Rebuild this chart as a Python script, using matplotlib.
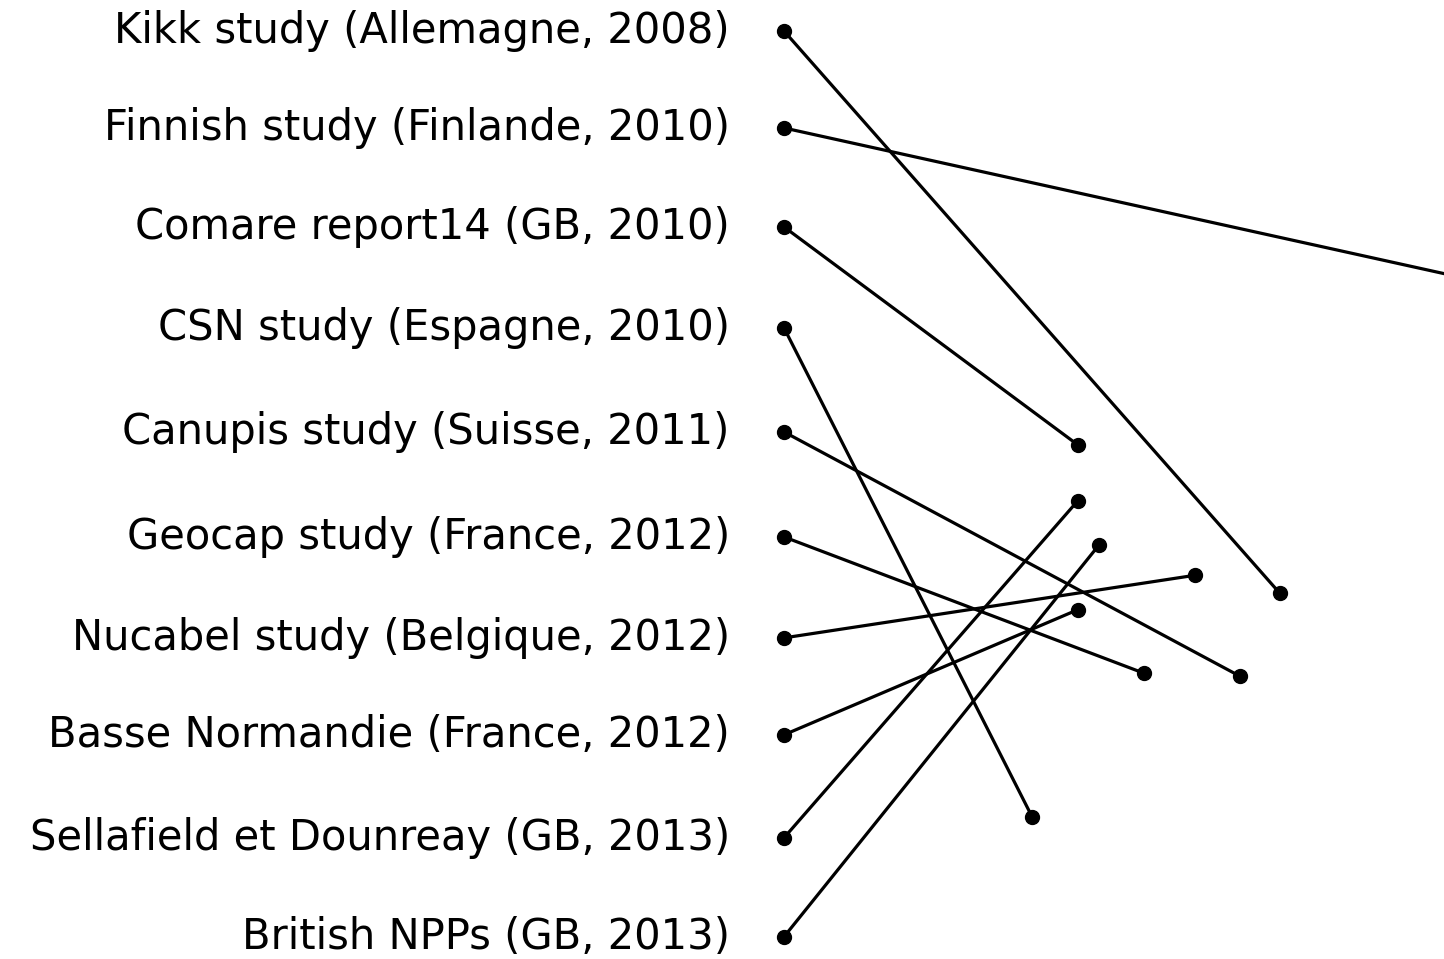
import matplotlib
matplotlib.use("Agg")
import matplotlib.pyplot as plt

plt.rcParams["font.family"] = ["DejaVu Sans"]

# étiquettes des études (de haut en bas)
studies = [
    "Kikk study (Allemagne, 2008)",
    "Finnish study (Finlande, 2010)",
    "Comare report14 (GB, 2010)",
    "CSN study (Espagne, 2010)",
    "Canupis study (Suisse, 2011)",
    "Geocap study (France, 2012)",
    "Nucabel study (Belgique, 2012)",
    "Basse Normandie (France, 2012)",
    "Sellafield et Dounreay (GB, 2013)",
    "British NPPs (GB, 2013)",
]
# position de départ (rang) et point d'arrivée (valeur, rang)
start_rank = [0.0, 0.96, 1.94, 2.94, 3.97, 5.01, 6.01, 6.97, 7.99, 8.97]
end_value = [4.96, 7.0, 2.94, 2.48, 4.56, 3.60, 4.11, 2.94, 2.94, 3.15]
end_rank = [5.57, 2.49, 4.10, 7.78, 6.39, 6.36, 5.39, 5.73, 4.65, 5.09]

W, H = 1444, 959
fig = plt.figure(figsize=(W / 100, H / 100), dpi=100)
ax = fig.add_axes([784 / W, 0, 1 - 784 / W, 1])

for y0, x1, y1 in zip(start_rank, end_value, end_rank):
    ax.plot([0, x1], [y0, y1], color="black", lw=2.3, solid_capstyle="round")
    ax.plot([0, x1], [y0, y1], "o", color="black", ms=10, clip_on=False)

ax.set_xlim(0, 6.60)
ax.set_ylim(9.19, -0.307)
ax.set_xticks([])
ax.set_yticks(start_rank)
ax.set_yticklabels(studies, fontsize=30, va="center")
ax.tick_params(axis="y", length=0, pad=39)
for spine in ax.spines.values():
    spine.set_visible(False)

fig.savefig("out.png", dpi=100)
